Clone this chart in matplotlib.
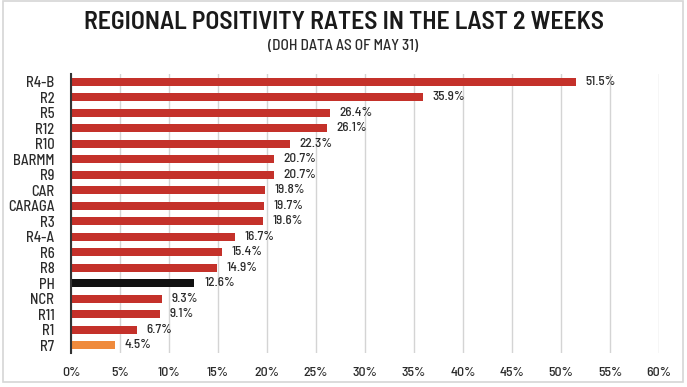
import matplotlib
matplotlib.use("Agg")
import matplotlib.pyplot as plt
from matplotlib.patches import Rectangle

regions = ["R4-B", "R2", "R5", "R12", "R10", "BARMM", "R9", "CAR", "CARAGA", "R3",
           "R4-A", "R6", "R8", "PH", "NCR", "R11", "R1", "R7"]
rates = [51.5, 35.9, 26.4, 26.1, 22.3, 20.7, 20.7, 19.8, 19.7, 19.6,
         16.7, 15.4, 14.9, 12.6, 9.3, 9.1, 6.7, 4.5]
x_ticks = [0, 5, 10, 15, 20, 25, 30, 35, 40, 45, 50, 55, 60]

red = "#c4312a"
colors = []
for r in regions:
    if r == "PH":
        colors.append("#111111")
    elif r == "R7":
        colors.append("#ef8a3c")
    else:
        colors.append(red)

font = "Barlow Semi Condensed"
txt = "#2b2b2b"

fig = plt.figure(figsize=(6.87, 3.87), dpi=100)
ax = fig.add_axes([0.1033, 0.0879, 0.8559, 0.7209])

y = list(range(len(regions)))
ax.barh(y, rates, height=0.52, color=colors, edgecolor="none", zorder=3)

for yi, v in zip(y, rates):
    ax.text(v + 1.0, yi, f"{v}%", va="center", ha="left", fontsize=9.5,
            family=font, fontweight="medium", color=txt)

ax.set_ylim(len(regions) - 0.5, -0.5)
ax.set_xlim(0, 60)
ax.set_yticks(y)
ax.set_yticklabels(regions, family=font, fontweight="medium", fontsize=10.5, color=txt)
ax.set_xticks(x_ticks)
ax.set_xticklabels([f"{t}%" for t in x_ticks], family=font, fontweight="medium",
                   fontsize=10, color=txt)
ax.tick_params(axis="both", length=0)
ax.tick_params(axis="y", pad=12)
ax.tick_params(axis="x", pad=10)

ax.grid(axis="x", color="#d4d4d4", linewidth=1.0, zorder=0)
for s in ["top", "right", "bottom"]:
    ax.spines[s].set_visible(False)
ax.spines["left"].set_color("#333333")
ax.spines["left"].set_linewidth(1.5)
ax.spines["left"].set_zorder(4)

fig.text(0.5, 0.943, "REGIONAL POSITIVITY RATES IN THE LAST 2 WEEKS", ha="center",
         va="center", fontsize=18.5, fontweight="semibold", family=font, color="#1a1a1a")
fig.text(0.5, 0.881, "(DOH DATA AS OF MAY 31)", ha="center", va="center",
         fontsize=11, family=font, fontweight="medium", color=txt)

# light frame around the graphic
fig.patches.append(Rectangle((3 / 687, 5 / 387), 680 / 687, 381 / 387,
                             transform=fig.transFigure, fill=False,
                             edgecolor="#d6d6d6", linewidth=1.2))

fig.savefig("out.png", dpi=100)
